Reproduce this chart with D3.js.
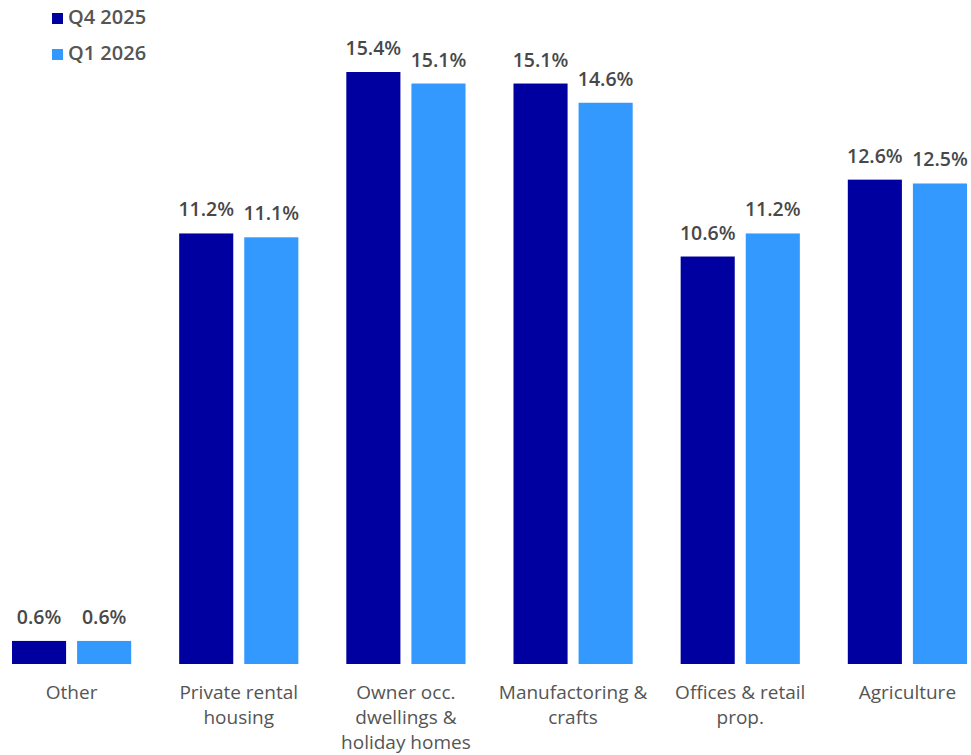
<!DOCTYPE html>
<html>
<head>
<meta charset="utf-8">
<script src="https://cdn.jsdelivr.net/npm/d3@7"></script>
<style>
  body { margin: 0; background: #fff; }
  svg { display: block; font-family: "Open Sans", "Noto Sans", sans-serif; }
</style>
</head>
<body>
<div id="chart"></div>
<script>
var categories = [
	["Other"],
	["Private rental", "housing"],
	["Owner occ.", "dwellings &", "holiday homes"],
	["Manufactoring &", "crafts"],
	["Offices & retail", "prop."],
	["Agriculture"]
];
var seriesNames = ["Q4 2025", "Q1 2026"];
var q4_2025 = [0.6, 11.2, 15.4, 15.1, 10.6, 12.6];
var q1_2026 = [0.6, 11.1, 15.1, 14.6, 11.2, 12.5];
var colors = ["#0000a0", "#3399ff"];

var width = 971,
	height = 755,
	baseY = 664;

var svg = d3.select("#chart").append("svg")
	.attr("width", width)
	.attr("height", height);

var idx = d3.range(categories.length);

var x0 = d3.scaleBand()
	.domain(idx)
	.range([12, 967])
	.paddingInner(0.287)
	.paddingOuter(0);

var x1 = d3.scaleBand()
	.domain(seriesNames)
	.range([0, x0.bandwidth()])
	.paddingInner(0.169)
	.paddingOuter(0);

var y = d3.scaleLinear()
	.domain([0, 15.4])
	.range([baseY, 72]);

var rows = idx.map(function (k) {
	return [q4_2025[k], q1_2026[k]];
});

var group = svg.selectAll("g.grp")
	.data(rows)
	.join("g")
	.attr("class", "grp")
	.attr("transform", function (d, k) {
		return "translate(" + x0(k) + ",0)";
	});

group.selectAll("rect")
	.data(function (d) { return d; })
	.join("rect")
	.attr("x", function (d, j) { return x1(seriesNames[j]); })
	.attr("y", function (d) { return y(d); })
	.attr("width", x1.bandwidth())
	.attr("height", function (d) { return baseY - y(d); })
	.attr("fill", function (d, j) { return colors[j]; });

group.selectAll("text.val")
	.data(function (d) { return d; })
	.join("text")
	.attr("class", "val")
	.attr("x", function (d, j) { return x1(seriesNames[j]) + x1.bandwidth() / 2; })
	.attr("y", function (d) { return y(d) - 17; })
	.attr("text-anchor", "middle")
	.attr("font-size", 19.5)
	.attr("font-weight", 600)
	.attr("fill", "#484848")
	.text(function (d) { return d.toFixed(1) + "%"; });

// category labels under the bars
var lab = svg.selectAll("text.cat")
	.data(categories)
	.join("text")
	.attr("class", "cat")
	.attr("text-anchor", "middle")
	.attr("font-size", 19)
	.attr("fill", "#555");

lab.selectAll("tspan")
	.data(function (d, k) {
		return d.map(function (s) { return {s: s, k: k}; });
	})
	.join("tspan")
	.attr("x", function (d) { return x0(d.k) + x0.bandwidth() / 2; })
	.attr("y", function (d, j) { return 699 + j * 25; })
	.text(function (d) { return d.s; });

// legend
var leg = svg.selectAll("g.leg")
	.data(seriesNames)
	.join("g")
	.attr("class", "leg")
	.attr("transform", function (d, j) {
		return "translate(52," + (13 + j * 36) + ")";
	});

leg.append("rect")
	.attr("width", 11)
	.attr("height", 11)
	.attr("fill", function (d, j) { return colors[j]; });

leg.append("text")
	.attr("x", 16)
	.attr("y", 11)
	.attr("font-size", 20)
	.attr("font-weight", 600)
	.attr("fill", "#555")
	.text(function (d) { return d; });
</script>
</body>
</html>
